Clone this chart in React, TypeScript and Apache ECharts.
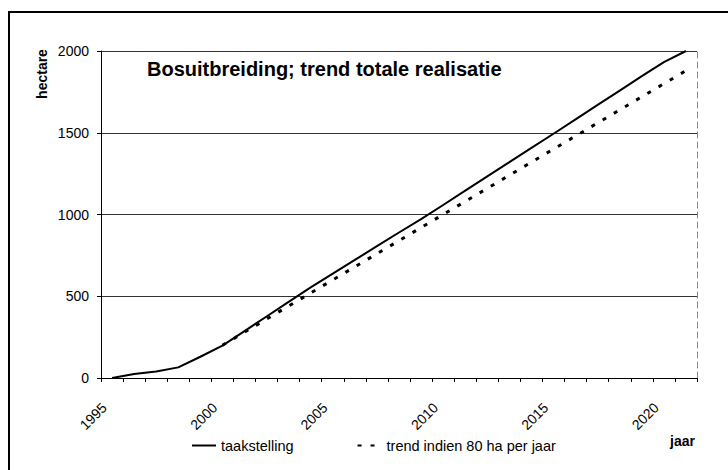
import React, { useEffect, useRef } from "react";
import * as echarts from "echarts";

const years = [
  "1995", "1996", "1997", "1998", "1999", "2000", "2001", "2002", "2003",
  "2004", "2005", "2006", "2007", "2008", "2009", "2010", "2011", "2012",
  "2013", "2014", "2015", "2016", "2017", "2018", "2019", "2020", "2021",
];

const taakstelling = [
  0, 25, 40, 65, 130, 198, 287, 376, 466, 554, 638, 722, 806, 890, 972, 1058,
  1146, 1233, 1320, 1408, 1494, 1582, 1670, 1758, 1846, 1932, 2000,
];

const trend80 = [
  null, null, null, null, null, 200, 280, 360, 440, 520, 600, 680, 760, 840,
  920, 1000, 1080, 1160, 1240, 1320, 1400, 1480, 1560, 1640, 1720, 1800, 1880,
];

const yTicks = { min: 0, max: 2000, interval: 500 };

const FONT = "'Liberation Sans', Arial, sans-serif";

export default function App() {
  const ref = useRef<HTMLDivElement>(null);

  useEffect(() => {
    if (!ref.current) return;
    const chart = echarts.init(ref.current, undefined, { renderer: "svg" });
    chart.setOption({
      animation: false,
      backgroundColor: "#ffffff",
      textStyle: { fontFamily: FONT, color: "#000" },
      title: {
        text: "Bosuitbreiding; trend totale realisatie",
        left: 147,
        top: 59,
        padding: 0,
        textStyle: {
          fontFamily: FONT,
          fontSize: 20,
          fontWeight: "bold",
          color: "#000",
        },
      },
      grid: { left: 101, right: 31, top: 51, bottom: 92 },
      legend: {
        left: 191,
        top: 438,
        itemWidth: 24,
        itemHeight: 14,
        itemGap: 63,
        padding: 0,
        itemStyle: { opacity: 0 },
        textStyle: { fontFamily: FONT, fontSize: 14.5, color: "#000" },
        data: ["taakstelling", "trend indien 80 ha per jaar"],
      },
      xAxis: {
        type: "category",
        data: years,
        boundaryGap: true,
        axisLine: { show: true, lineStyle: { color: "#000", width: 1 } },
        axisTick: {
          show: true,
          interval: 0,
          length: 4,
          lineStyle: { color: "#000" },
        },
        axisLabel: {
          interval: 4,
          rotate: 45,
          margin: 19.5,
          padding: [0, 11, 0, 0],
          fontSize: 14,
          fontFamily: FONT,
          color: "#000",
        },
        splitLine: { show: false },
      },
      yAxis: [
        {
          type: "value",
          min: yTicks.min,
          max: yTicks.max,
          interval: yTicks.interval,
          axisLine: { show: true, lineStyle: { color: "#000", width: 1 } },
          axisTick: { show: true, length: 4, lineStyle: { color: "#000" } },
          axisLabel: {
            margin: 12,
            fontSize: 14,
            fontFamily: FONT,
            color: "#000",
            formatter: (v: number) => String(v),
          },
          splitLine: { show: true, lineStyle: { color: "#333", width: 1 } },
        },
        {
          type: "value",
          position: "right",
          min: yTicks.min,
          max: yTicks.max,
          interval: yTicks.interval,
          axisLine: {
            show: true,
            lineStyle: { color: "#888", width: 1, type: [6, 4] },
          },
          axisTick: { show: false },
          axisLabel: { show: false },
          splitLine: { show: false },
        },
      ],
      series: [
        {
          name: "taakstelling",
          type: "line",
          data: taakstelling,
          symbol: "none",
          showSymbol: false,
          lineStyle: { color: "#000", width: 2 },
          itemStyle: { color: "#000" },
        },
        {
          name: "trend indien 80 ha per jaar",
          type: "line",
          data: trend80,
          symbol: "none",
          showSymbol: false,
          connectNulls: false,
          lineStyle: { color: "#000", width: 3, type: [4, 9] },
          itemStyle: { color: "#000" },
        },
      ],
      graphic: [
        {
          type: "polyline",
          silent: true,
          shape: { points: [[9, 470], [9, 12], [728, 12]] },
          style: { stroke: "#000", lineWidth: 2, fill: null },
        },
        {
          type: "text",
          x: 41.5,
          y: 74,
          rotation: Math.PI / 2,
          style: {
            text: "hectare",
            fontFamily: FONT,
            fontSize: 14,
            fontWeight: "bold",
            fill: "#000",
            align: "center",
            verticalAlign: "middle",
          },
        },
        {
          type: "text",
          x: 670,
          y: 441,
          style: {
            text: "jaar",
            fontFamily: FONT,
            fontSize: 14,
            fontWeight: "bold",
            fill: "#000",
            align: "left",
            verticalAlign: "middle",
          },
        },
      ],
    });
    return () => chart.dispose();
  }, []);

  return (
    <div
      ref={ref}
      style={{
        position: "fixed",
        left: 0,
        top: 0,
        width: 728,
        height: 470,
        background: "#fff",
      }}
    />
  );
}
